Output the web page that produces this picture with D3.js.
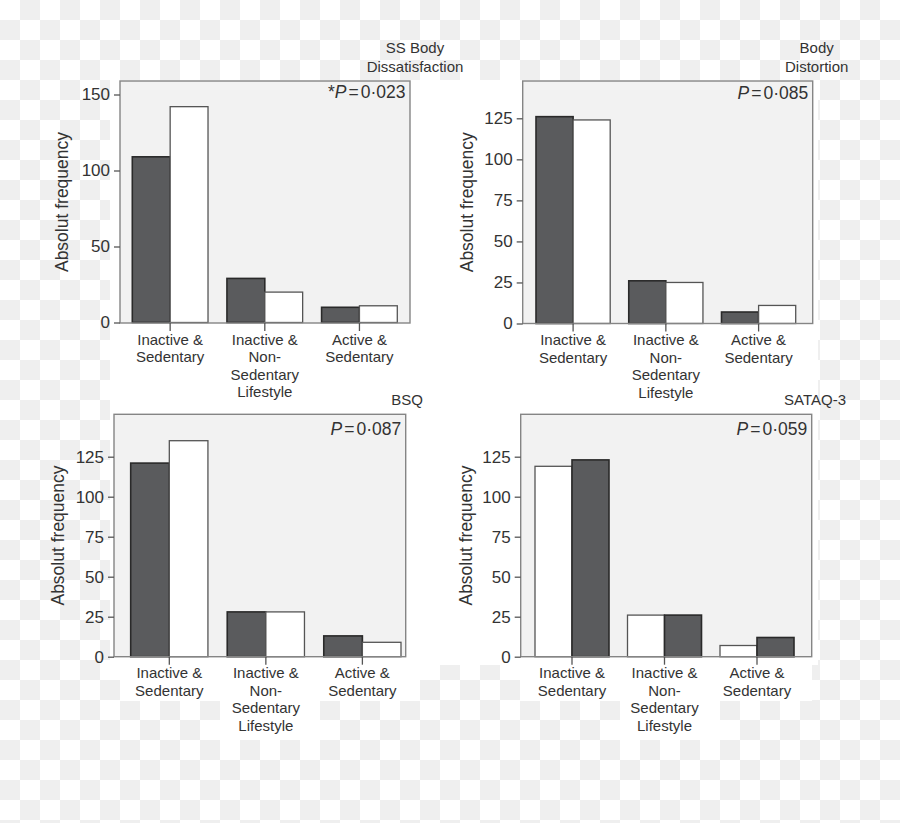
<!DOCTYPE html>
<html>
<head>
<meta charset="utf-8">
<script src="https://cdn.jsdelivr.net/npm/d3@7"></script>
<style>
  html, body { margin: 0; padding: 0; background: #fff; }
  svg { display: block; font-family: "Liberation Sans", Arial, Helvetica, sans-serif; }
</style>
</head>
<body>
<svg id="chart" width="900" height="823"></svg>
<script>
// ---------- DATA ----------
const categories = ["Inactive & Sedentary", "Inactive & Non-Sedentary Lifestyle", "Active & Sedentary"];
const categoryLines = [["Inactive &", "Sedentary"], ["Inactive &", "Non-", "Sedentary", "Lifestyle"], ["Active &", "Sedentary"]];
const panelTitles = [["SS Body", "Dissatisfaction"], ["Body", "Distortion"], ["BSQ"], ["SATAQ-3"]];
const pStars = ["*", "", "", ""];
const pValues = ["0·023", "0·085", "0·087", "0·059"];
const yAxisTitle = "Absolut frequency";
const firstBarValues  = [[109, 29, 10], [126, 26, 7], [121, 28, 13], [119, 26, 7]];
const secondBarValues = [[142, 20, 11], [124, 25, 11], [135, 28, 9], [123, 26, 12]];
const yTickValues = [[0, 50, 100, 150], [0, 25, 50, 75, 100, 125], [0, 25, 50, 75, 100, 125], [0, 25, 50, 75, 100, 125]];

// ---------- LAYOUT (positions / styles) ----------
const layout = [
  { l: 120,   t: 81,    r: 410,   b: 323,   zeroY: 322.5, refVal: 150, refY: 94.5,  bars: [132.3, 397.3], pY: 98.3,  titleX: 415,   titleY: 53,  yTitleX: 62,    fills: ["dark", "white"] },
  { l: 522.7, t: 81,    r: 812.7, b: 323.5, zeroY: 323.5, refVal: 125, refY: 118.3, bars: [536, 795.7],   pY: 98.7,  titleX: 816.7, titleY: 53,  yTitleX: 466.7, fills: ["dark", "white"] },
  { l: 114,   t: 414.3, r: 405.7, b: 656.7, zeroY: 656.7, refVal: 125, refY: 456.7, bars: [130.7, 401],   pY: 435,   titleX: 407,   titleY: 405, yTitleX: 58.3,  fills: ["dark", "white"] },
  { l: 520.7, t: 414.3, r: 811.7, b: 656.7, zeroY: 656.7, refVal: 125, refY: 456.7, bars: [535, 794],     pY: 435,   titleX: 815,   titleY: 405, yTitleX: 466,   fills: ["white", "dark"] }
];
const style = {
  dark:  { fill: "#5a5b5d", stroke: "#2a2a2a" },
  white: { fill: "#ffffff", stroke: "#555555" },
  text: "#333333",
  frameFill: "#f2f2f2",
  frameStroke: "#858585"
};

const svg = d3.select("#chart");

// ---------- BACKGROUND (checkerboard + white paper) ----------
const defs = svg.append("defs");
const pat = defs.append("pattern").attr("id", "checker")
  .attr("width", 40).attr("height", 40).attr("patternUnits", "userSpaceOnUse");
pat.append("rect").attr("width", 40).attr("height", 40).attr("fill", "#ffffff");
pat.append("rect").attr("x", 20).attr("y", 0).attr("width", 20).attr("height", 20).attr("fill", "#efefef");
pat.append("rect").attr("x", 0).attr("y", 20).attr("width", 20).attr("height", 20).attr("fill", "#efefef");
svg.append("rect").attr("width", 900).attr("height", 823).attr("fill", "url(#checker)");
const paper = [
  [110, 80, 708, 585],
  [120, 665, 300, 36], [220, 700, 100, 40],
  [520, 665, 292, 36], [620, 700, 100, 40]
];
svg.selectAll("rect.paper").data(paper).join("rect").attr("class", "paper")
  .attr("x", d => d[0]).attr("y", d => d[1]).attr("width", d => d[2]).attr("height", d => d[3])
  .attr("fill", "#ffffff");

// ---------- PANELS ----------
layout.forEach((L, i) => {
  const g = svg.append("g");
  const y = d3.scaleLinear().domain([0, L.refVal]).range([L.zeroY, L.refY]);
  const x = d3.scaleBand().domain(categories).range(L.bars).paddingInner(0.2).paddingOuter(0);
  const sub = d3.scaleBand().domain([0, 1]).range([0, x.bandwidth()]);

  // frame background
  g.append("rect").attr("x", L.l).attr("y", L.t).attr("width", L.r - L.l).attr("height", L.b - L.t)
    .attr("fill", style.frameFill);

  // bars
  const rows = categories.map((c, k) => [
    { cat: c, s: 0, v: firstBarValues[i][k] },
    { cat: c, s: 1, v: secondBarValues[i][k] }
  ]).flat();
  g.selectAll("rect.bar").data(rows).join("rect").attr("class", "bar")
    .attr("x", d => x(d.cat) + sub(d.s))
    .attr("y", d => y(d.v))
    .attr("width", sub.bandwidth())
    .attr("height", d => L.zeroY - y(d.v))
    .attr("fill", d => style[L.fills[d.s]].fill)
    .attr("stroke", d => style[L.fills[d.s]].stroke)
    .attr("stroke-width", d => L.fills[d.s] === "dark" ? 1.6 : 1.3);

  // frame stroke
  g.append("rect").attr("x", L.l).attr("y", L.t).attr("width", L.r - L.l).attr("height", L.b - L.t)
    .attr("fill", "none").attr("stroke", style.frameStroke).attr("stroke-width", 1.4);

  // y axis
  const ya = g.append("g").attr("transform", `translate(${L.l},0)`)
    .call(d3.axisLeft(y).tickValues(yTickValues[i]).tickSize(6).tickPadding(4).tickFormat(d3.format("d")));
  ya.select(".domain").remove();
  ya.selectAll(".tick line").attr("stroke", "#555").attr("stroke-width", 1.3);
  ya.selectAll(".tick text").attr("fill", style.text).style("font-size", "17px")
    .style("font-family", "'Liberation Sans', Arial, sans-serif");

  // x axis
  const xa = g.append("g").attr("transform", `translate(0,${L.b})`)
    .call(d3.axisBottom(x).tickSize(8).tickFormat(""));
  xa.select(".domain").remove();
  xa.selectAll(".tick line").attr("stroke", "#555").attr("stroke-width", 1.3);
  categories.forEach((c, k) => {
    const t = g.append("text").attr("x", x(c) + x.bandwidth() / 2).attr("y", L.b + 21.5)
      .attr("text-anchor", "middle").attr("fill", style.text).style("font-size", "15px");
    categoryLines[k].forEach((line, m) => {
      t.append("tspan").attr("x", x(c) + x.bandwidth() / 2).attr("dy", m === 0 ? 0 : 17.5).text(line);
    });
  });

  // y-axis title
  g.append("text")
    .attr("transform", `translate(${L.yTitleX},${(L.t + L.b) / 2}) rotate(-90)`)
    .attr("text-anchor", "middle").attr("dominant-baseline", "central")
    .attr("fill", style.text).style("font-size", "17.5px").text(yAxisTitle);

  // p value
  const p = g.append("text").attr("x", L.r - 4.5).attr("y", L.pY).attr("text-anchor", "end")
    .attr("fill", style.text).style("font-size", "17.5px");
  if (pStars[i]) p.append("tspan").attr("dy", -0).text(pStars[i]);
  p.append("tspan").style("font-style", "italic").text("P");
  p.append("tspan").attr("dx", 2).text("=");
  p.append("tspan").attr("dx", 2).text(pValues[i]);

  // panel title
  const tt = g.append("text").attr("x", L.titleX).attr("y", L.titleY).attr("text-anchor", "middle")
    .attr("fill", style.text).style("font-size", "15px");
  panelTitles[i].forEach((line, m) => {
    tt.append("tspan").attr("x", L.titleX).attr("dy", m === 0 ? 0 : 19).text(line);
  });
});
</script>
</body>
</html>
